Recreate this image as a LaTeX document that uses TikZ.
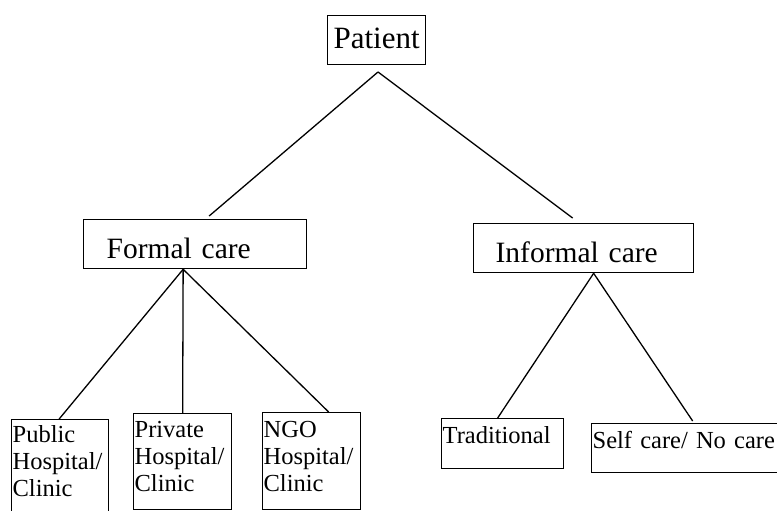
\documentclass[tikz,border=0pt]{standalone}
\usepackage{fontspec}
\setmainfont{Liberation Serif}
\tikzset{
  box/.style={draw, line width=1.3pt, rectangle, anchor=north west, inner ysep=0pt},
  top/.style={box, font=\fontsize{31}{33}\selectfont, minimum width=98pt, align=center, text height=33pt, text depth=16pt},
  mid/.style={box, font=\fontsize{29.5}{31}\selectfont, align=left, text height=39pt, text depth=10pt},
  leaf/.style={box, font=\fontsize{24.5}{27}\selectfont, align=left, inner xsep=1pt}
}
\begin{document}
\begin{tikzpicture}[x=1pt, y=-1pt, line width=1.3pt]
            \clip (0, 0) rectangle (777, 511);
            \node[top] (patient) at (327, 15) {Patient};
            \coordinate (apex) at (378, 72);
            \node[mid, inner xsep=23pt, text width=177pt] (formal) at (83, 219) {Formal care};
            \node[mid, inner xsep=22pt, text width=176pt] (informal) at (473, 223) {Informal care};
            \node[leaf, text width=95pt, text height=23pt, text depth=80pt] (public) at (11, 419) {Public\\Hospital/\\Clinic};
            \node[leaf, text width=96pt, text height=24pt, text depth=72pt] (private) at (133, 413) {Private\\Hospital/\\Clinic};
            \node[leaf, text width=96pt, text height=25pt, text depth=72pt] (ngo) at (262, 412) {NGO\\Hospital/\\Clinic};
            \node[leaf, text width=120pt, text height=25pt, text depth=25pt] (trad) at (441, 418) {Traditional};
            \node[leaf, text width=194pt, text height=25pt, text depth=24pt] (self) at (591, 423) {Self care/ No care};
            \draw (apex) -- ([xshift=14pt, yshift=3pt]formal.north);
            \draw (apex) -- ([xshift=-11pt, yshift=5pt]informal.north);
            \draw ([xshift=-12pt]formal.south) -- ([xshift=-1pt]public.north);
            \draw ([xshift=-12pt]formal.south) -- (private.north);
            \draw ([xshift=-12pt]formal.south) -- ([xshift=17pt]ngo.north);
            \draw ([xshift=10pt]informal.south) -- ([xshift=-5pt]trad.north);
            \draw ([xshift=10pt]informal.south) -- ([xshift=3pt, yshift=2pt]self.north);
        \end{tikzpicture}
\end{document}
